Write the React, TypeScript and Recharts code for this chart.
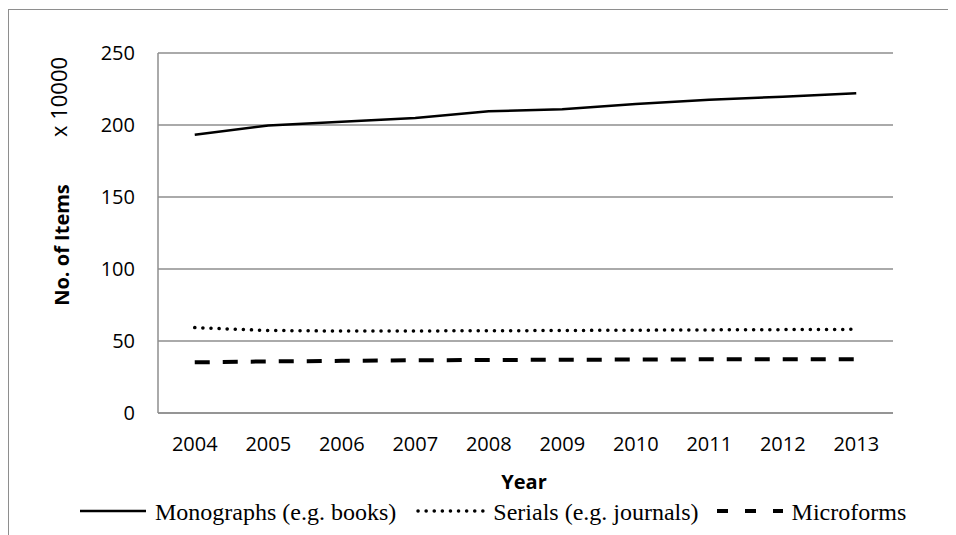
// Library holdings 2004–2013, Excel-style line chart (black/grey, dashed + dotted series)
import { LineChart, Line, XAxis, YAxis, CartesianGrid, Legend } from 'recharts';

const years = ['2004', '2005', '2006', '2007', '2008', '2009', '2010', '2011', '2012', '2013'];
const monographs = [193.3, 199.6, 202.2, 204.9, 209.6, 210.9, 214.6, 217.5, 219.7, 222.1];
const serials = [59.3, 57.3, 56.9, 57.0, 57.1, 57.3, 57.5, 57.7, 57.9, 58.1];
const microforms = [35.2, 35.8, 36.2, 36.6, 36.8, 37.0, 37.1, 37.3, 37.4, 37.4];
const yTicks = [0, 50, 100, 150, 200, 250];

const data = years.map((year, i) => ({ year, mono: monographs[i], serial: serials[i], micro: microforms[i] }));

const W = 948;
const H = 527;
const Y_AXIS_W = 60;
const X_AXIS_H = 40;
const margin = { top: 45, right: 63, bottom: 82, left: 90 };
const plotW = W - margin.left - Y_AXIS_W - margin.right;
const halfBand = plotW / years.length / 2;

const GRID = '#8e8e8e';
const SANS = '"Open Sans", sans-serif';
const SERIF = '"Liberation Serif", "Times New Roman", serif';

const legendItems = [
  { label: 'Monographs (e.g. books)', dash: undefined, width: 2.5, cap: 'butt' as const, gap: 20 },
  { label: 'Serials (e.g. journals)', dash: '0.1 8', width: 3.5, cap: 'round' as const, gap: 16 },
  { label: 'Microforms', dash: '11 17', width: 4, cap: 'butt' as const, gap: 0 },
];

function ChartLegend() {
  return (
    <div style={{ display: 'flex', alignItems: 'center', paddingLeft: 70, fontFamily: SERIF, fontSize: 24, color: '#000' }}>
      {legendItems.map((it) => (
        <div key={it.label} style={{ display: 'flex', alignItems: 'center', marginRight: it.gap }}>
          <svg width={70} height={10} style={{ marginRight: 7, marginTop: -4 }}>
            <line x1={2} y1={5} x2={68} y2={5} stroke="#000" strokeWidth={it.width} strokeDasharray={it.dash} strokeLinecap={it.cap} />
          </svg>
          <span style={{ whiteSpace: 'nowrap' }}>{it.label}</span>
        </div>
      ))}
    </div>
  );
}

const axisText = { position: 'absolute' as const, fontFamily: SANS, color: '#000', whiteSpace: 'nowrap' as const };

export default function App() {
  return (
    <div style={{ position: 'relative', width: W, height: H, overflow: 'hidden', background: '#fff' }}>
      <div style={{ position: 'absolute', left: 0, top: 1, width: 2000, height: 2000, borderLeft: `1.5px solid ${GRID}`, borderTop: `1.5px solid ${GRID}` }} />
      <div style={{ position: 'absolute', left: 0, top: 0 }}>
        <LineChart width={W} height={H} data={data} margin={margin}>
          <CartesianGrid vertical={false} stroke={GRID} strokeWidth={1.5} />
          <XAxis
            dataKey="year"
            height={X_AXIS_H}
            padding={{ left: halfBand, right: halfBand }}
            axisLine={{ stroke: GRID, strokeWidth: 1.5 }}
            tickLine={false}
            tickSize={0}
            tickMargin={24}
            interval={0}
            tick={{ fontSize: 20, fontFamily: SANS, fill: '#000' }}
          />
          <YAxis
            width={Y_AXIS_W}
            domain={[0, 250]}
            ticks={yTicks}
            axisLine={{ stroke: GRID, strokeWidth: 1.5 }}
            tickLine={false}
            tickSize={0}
            tickMargin={23}
            tick={{ fontSize: 20, fontFamily: SANS, fill: '#000' }}
          />
          <Legend
            layout="horizontal"
            verticalAlign="middle"
            content={() => <ChartLegend />}
            wrapperStyle={{ top: 491, left: 0, width: W, height: 30 }}
          />
          <Line dataKey="mono" stroke="#000" strokeWidth={2.5} dot={false} isAnimationActive={false} />
          <Line dataKey="serial" stroke="#000" strokeWidth={3.5} strokeDasharray="0.1 8" strokeLinecap="round" dot={false} isAnimationActive={false} />
          <Line dataKey="micro" stroke="#000" strokeWidth={4} strokeDasharray="15 13" dot={false} isAnimationActive={false} />
        </LineChart>
      </div>
      <div style={{ ...axisText, left: 50, top: 89, fontSize: 22, transform: 'translate(-50%, -50%) rotate(-90deg)' }}>x 10000</div>
      <div style={{ ...axisText, left: 53, top: 237, fontSize: 20, fontWeight: 700, transform: 'translate(-50%, -50%) rotate(-90deg)' }}>No. of Items</div>
      <div style={{ ...axisText, left: 516, top: 473, fontSize: 20, fontWeight: 700, transform: 'translate(-50%, -50%)' }}>Year</div>
    </div>
  );
}
